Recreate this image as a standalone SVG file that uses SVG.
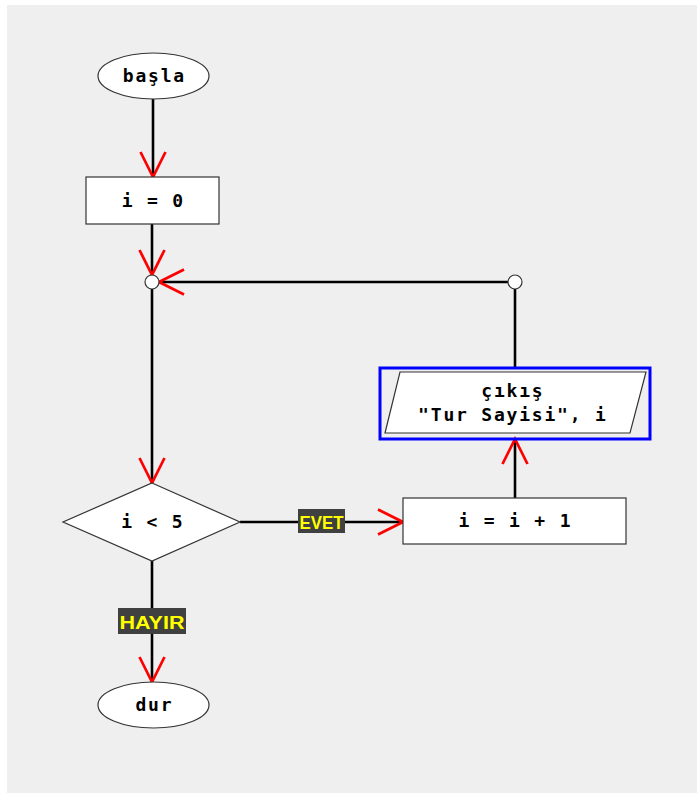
<svg xmlns="http://www.w3.org/2000/svg" width="697" height="793" viewBox="0 0 697 793">
<defs>
<marker id="arr" markerUnits="userSpaceOnUse" markerWidth="30" markerHeight="30" viewBox="-22 -12 24 24" refX="0" refY="0" orient="auto" overflow="visible">
<path d="M-20,-10 L0,0 L-20,10" fill="none" stroke="#ff0000" stroke-width="2.2"/>
</marker>
<style>
.shape{fill:#ffffff;stroke:#333333;stroke-width:1.2}
.line{fill:none;stroke:#000000;stroke-width:2.6}
.t{font-family:"DejaVu Sans Mono","Liberation Mono",monospace;font-weight:bold;font-size:18px;letter-spacing:1.8px;fill:#000;text-anchor:middle}
.lb{fill:#404040}
.lt{font-family:"Liberation Sans",Arial,sans-serif;font-weight:bold;font-size:19px;fill:#ffff00;text-anchor:middle}
</style>
</defs>
<rect x="7" y="5" width="690" height="788" fill="#efefef"/>
<g id="connectors">
<path class="line" d="M153,99 V177" marker-end="url(#arr)"/>
<path class="line" d="M152,224 V275" marker-end="url(#arr)"/>
<path class="line" d="M508,282 H159" marker-end="url(#arr)"/>
<path class="line" d="M152,289 V483" marker-end="url(#arr)"/>
<path class="line" d="M240,522 H403" marker-end="url(#arr)"/>
<path class="line" d="M515,498 V439" marker-end="url(#arr)"/>
<path class="line" d="M515,367 V289"/>
<path class="line" d="M152,561 V682" marker-end="url(#arr)"/>
<g id="label-evet"><rect class="lb" x="298" y="509" width="47" height="24"/><text class="lt" x="321.5" y="529" textLength="44" lengthAdjust="spacingAndGlyphs">EVET</text></g>
<g id="label-hayir"><rect class="lb" x="118" y="608" width="68" height="26"/><text class="lt" x="152" y="629" textLength="65" lengthAdjust="spacingAndGlyphs">HAYIR</text></g>
</g>
<g id="start"><ellipse class="shape" cx="153.5" cy="76" rx="55.5" ry="23"/><text class="t" x="154.4" y="82">başla</text></g>
<g id="init"><rect class="shape" x="86" y="177" width="133" height="47"/><text class="t" x="153.4" y="207">i = 0</text></g>
<g id="join1"><circle class="shape" cx="152" cy="282" r="7"/></g>
<g id="join2"><circle class="shape" cx="515" cy="282" r="7"/></g>
<g id="cond"><polygon class="shape" points="152,483 240,522 152,561 63,522"/><text class="t" x="152.9" y="528">i &lt; 5</text></g>
<g id="inc"><rect class="shape" x="403" y="498" width="223" height="46"/><text class="t" x="515.4" y="527">i = i + 1</text></g>
<g id="output"><rect x="380" y="368" width="270" height="71" fill="none" stroke="#0000ff" stroke-width="3"/><polygon class="shape" points="400,372 646,372 630,433 385,433"/><text class="t" x="512.9" y="397">çıkış</text><text class="t" x="512.9" y="421">"Tur Sayisi", i</text></g>
<g id="end"><ellipse class="shape" cx="153.5" cy="705" rx="55.5" ry="23"/><text class="t" x="154.4" y="711">dur</text></g>
</svg>
